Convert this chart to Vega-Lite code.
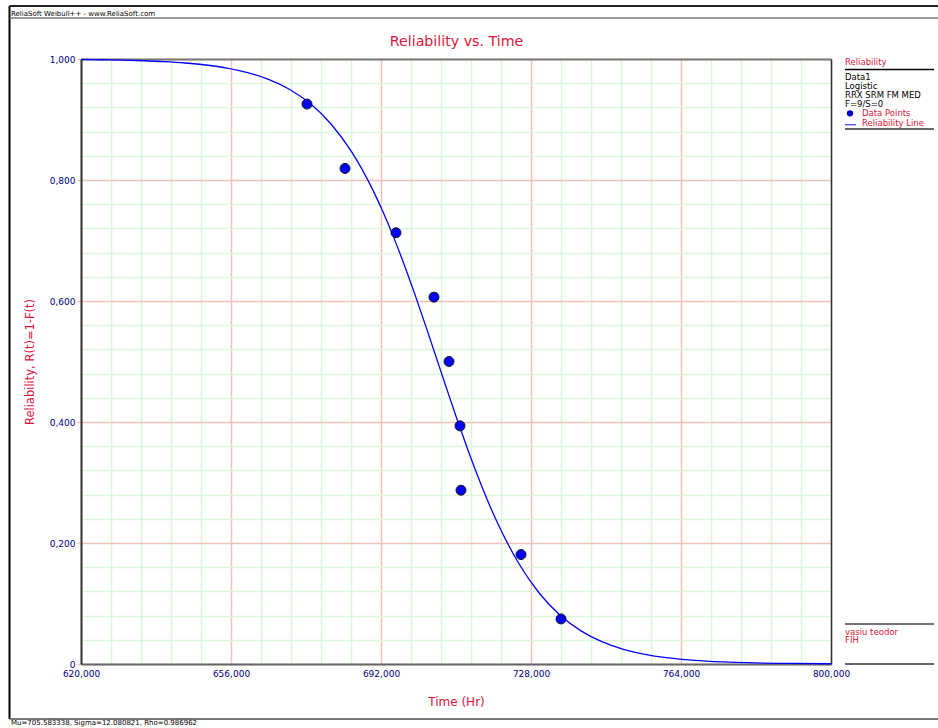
{
  "$schema": "https://vega.github.io/schema/vega-lite/v6.json",
  "width": 750,
  "height": 605,
  "autosize": {"type": "none"},
  "padding": {"left": 81, "top": 59, "right": 107, "bottom": 64},
  "background": "white",
  "config": {
    "font": "DejaVu Sans",
    "view": {"stroke": null},
    "axis": {"labelFlush": false, "labelOverlap": false, "titleFontWeight": "normal", "labelFont": "DejaVu Sans", "titleFont": "DejaVu Sans"}
  },
  "datasets": {
    "curve": [
      {"time": 620, "reliability": 0.99916},
      {"time": 625, "reliability": 0.99873},
      {"time": 630, "reliability": 0.99809},
      {"time": 635, "reliability": 0.99711},
      {"time": 640, "reliability": 0.99563},
      {"time": 645, "reliability": 0.99341},
      {"time": 650, "reliability": 0.99006},
      {"time": 655, "reliability": 0.98504},
      {"time": 660, "reliability": 0.97754},
      {"time": 665, "reliability": 0.96641},
      {"time": 670, "reliability": 0.95005},
      {"time": 675, "reliability": 0.92633},
      {"time": 680, "reliability": 0.89262},
      {"time": 685, "reliability": 0.84602},
      {"time": 690, "reliability": 0.78412},
      {"time": 692.5, "reliability": 0.74708},
      {"time": 695, "reliability": 0.70600},
      {"time": 697.5, "reliability": 0.66130},
      {"time": 700, "reliability": 0.61352},
      {"time": 702.5, "reliability": 0.56347},
      {"time": 705, "reliability": 0.51206},
      {"time": 707.5, "reliability": 0.46043},
      {"time": 710, "reliability": 0.40960},
      {"time": 712.5, "reliability": 0.36065},
      {"time": 715, "reliability": 0.31442},
      {"time": 717.5, "reliability": 0.27162},
      {"time": 720, "reliability": 0.23265},
      {"time": 725, "reliability": 0.16695},
      {"time": 730, "reliability": 0.11699},
      {"time": 735, "reliability": 0.08054},
      {"time": 740, "reliability": 0.05473},
      {"time": 745, "reliability": 0.03687},
      {"time": 750, "reliability": 0.02468},
      {"time": 755, "reliability": 0.01645},
      {"time": 760, "reliability": 0.01094},
      {"time": 765, "reliability": 0.00726},
      {"time": 770, "reliability": 0.00481},
      {"time": 780, "reliability": 0.00211},
      {"time": 790, "reliability": 0.00092},
      {"time": 800, "reliability": 0.00040}
    ],
    "points": [
      {"time": 674.24, "reliability": 0.9255},
      {"time": 683.36, "reliability": 0.8191},
      {"time": 695.6, "reliability": 0.7128},
      {"time": 704.72, "reliability": 0.6064},
      {"time": 708.32, "reliability": 0.5},
      {"time": 710.96, "reliability": 0.3936},
      {"time": 711.2, "reliability": 0.2872},
      {"time": 725.6, "reliability": 0.1809},
      {"time": 735.2, "reliability": 0.0745}
    ]
  },
  "resolve": {"axis": {"x": "independent", "y": "independent"}},
  "layer": [
    {
      "data": {"name": "curve"},
      "mark": {"type": "line", "color": "#0000ff", "strokeWidth": 1.3, "interpolate": "monotone"},
      "encoding": {
        "x": {
          "field": "time", "type": "quantitative",
          "scale": {"domain": [620, 800], "nice": false, "zero": false},
          "axis": {
            "orient": "bottom", "values": [620, 656, 692, 728, 764, 800],
            "labelExpr": "replace(format(datum.value, '.3f'), '.', ',')",
            "title": "Time (Hr)", "titleColor": "#dc143c", "titleFontSize": 12, "titlePadding": 18,
            "grid": true, "gridColor": "#f1c2b6", "gridWidth": 1.5,
            "ticks": false, "domainColor": "#666666", "domainWidth": 2,
            "labelColor": "#000080", "labelFontSize": 9, "labelPadding": 5
          }
        },
        "y": {
          "field": "reliability", "type": "quantitative",
          "scale": {"domain": [0, 1], "nice": false, "zero": false},
          "axis": {
            "orient": "left", "values": [0, 0.2, 0.4, 0.6, 0.8, 1],
            "labelExpr": "datum.value == 0 ? '0' : replace(format(datum.value, '.3f'), '.', ',')",
            "title": "Reliability, R(t)=1-F(t)", "titleColor": "#dc143c", "titleFontSize": 11.5, "titlePadding": 14,
            "grid": true, "gridColor": "#f1c2b6", "gridWidth": 1.5,
            "ticks": true, "tickColor": "#f1c2b6", "tickSize": 4, "tickWidth": 1.5,
            "domainColor": "#333333", "domainWidth": 2,
            "labelColor": "#000080", "labelFontSize": 9, "labelPadding": 2
          }
        }
      }
    },
    {
      "data": {"name": "points"},
      "mark": {"type": "circle", "size": 100, "color": "#0000ff", "stroke": "#1a1a1a", "strokeWidth": 1, "opacity": 1},
      "encoding": {
        "x": {
          "field": "time", "type": "quantitative",
          "scale": {"domain": [620, 800], "nice": false, "zero": false},
          "axis": {
            "orient": "top",
            "values": [627.2, 634.4, 641.6, 648.8, 663.2, 670.4, 677.6, 684.8, 699.2, 706.4, 713.6, 720.8, 735.2, 742.4, 749.6, 756.8, 771.2, 778.4, 785.6, 792.8],
            "labels": false, "ticks": false,
            "grid": true, "gridColor": "#dcf6dc", "gridWidth": 1.5,
            "domainColor": "#777777", "domainWidth": 2,
            "title": "Reliability vs. Time", "titleColor": "#dc143c", "titleFontSize": 14.2, "titlePadding": 11
          }
        },
        "y": {
          "field": "reliability", "type": "quantitative",
          "scale": {"domain": [0, 1], "nice": false, "zero": false},
          "axis": {
            "orient": "right",
            "values": [0.04, 0.08, 0.12, 0.16, 0.24, 0.28, 0.32, 0.36, 0.44, 0.48, 0.52, 0.56, 0.64, 0.68, 0.72, 0.76, 0.84, 0.88, 0.92, 0.96],
            "labels": false, "ticks": false,
            "grid": true, "gridColor": "#dcf6dc", "gridWidth": 1.5,
            "domainColor": "#333333", "domainWidth": 1.5,
            "title": null
          }
        }
      }
    },
    {
      "data": {"values": [{}]},
      "mark": {"type": "rule", "color": "#000000", "strokeWidth": 2},
      "encoding": {"x": {"datum": 602.84, "axis": null}, "y": {"datum": 1.0876, "axis": null}, "y2": {"datum": -0.0909}}
    },
    {
      "data": {"values": [{}]},
      "mark": {"type": "rule", "color": "#222222", "strokeWidth": 2},
      "encoding": {"x": {"datum": 602.84, "axis": null}, "x2": {"datum": 826.5}, "y": {"datum": 1.0876, "axis": null}}
    },
    {
      "data": {"values": [{}]},
      "mark": {"type": "rule", "color": "#777777", "strokeWidth": 1.5},
      "encoding": {"x": {"datum": 602.84, "axis": null}, "x2": {"datum": 826.5}, "y": {"datum": 1.06777, "axis": null}}
    },
    {
      "data": {"values": [{}]},
      "mark": {"type": "rule", "color": "#777777", "strokeWidth": 2},
      "encoding": {"x": {"datum": 602.84, "axis": null}, "x2": {"datum": 826.5}, "y": {"datum": -0.0909, "axis": null}}
    },
    {
      "data": {"values": [{}]},
      "mark": {"type": "text", "text": "ReliaSoft Weibull++ - www.ReliaSoft.com", "align": "left", "baseline": "alphabetic", "fontSize": 7, "color": "#000000"},
      "encoding": {"x": {"datum": 603.2, "axis": null}, "y": {"datum": 1.07058, "axis": null}}
    },
    {
      "data": {"values": [{}]},
      "mark": {"type": "text", "text": "Mu=705.583338, Sigma=12.080821, Rho=0.986962", "align": "left", "baseline": "alphabetic", "fontSize": 7, "color": "#000000"},
      "encoding": {"x": {"datum": 603.2, "axis": null}, "y": {"datum": -0.1012, "axis": null}}
    },
    {
      "data": {"values": [{}]},
      "mark": {"type": "text", "text": "Reliability", "align": "left", "baseline": "alphabetic", "fontSize": 8.5, "color": "#dc143c"},
      "encoding": {"x": {"datum": 803.36, "axis": null}, "y": {"datum": 0.98926, "axis": null}}
    },
    {
      "data": {"values": [{}]},
      "mark": {"type": "rule", "color": "#000000", "strokeWidth": 1.5},
      "encoding": {"x": {"datum": 803.36, "axis": null}, "x2": {"datum": 824.72}, "y": {"datum": 0.98264, "axis": null}}
    },
    {
      "data": {"values": [{}]},
      "mark": {"type": "text", "text": ["Data1", "Logistic", "RRX SRM FM MED", "F=9/S=0"], "lineHeight": 9, "align": "left", "baseline": "alphabetic", "fontSize": 8.5, "color": "#000000"},
      "encoding": {"x": {"datum": 803.36, "axis": null}, "y": {"datum": 0.96529, "axis": null}}
    },
    {
      "data": {"values": [{}]},
      "mark": {"type": "circle", "size": 40, "color": "#0000cc", "opacity": 1},
      "encoding": {"x": {"datum": 804.56, "axis": null}, "y": {"datum": 0.91025, "axis": null}}
    },
    {
      "data": {"values": [{}]},
      "mark": {"type": "text", "text": "Data Points", "align": "left", "baseline": "alphabetic", "fontSize": 8.5, "color": "#dc143c"},
      "encoding": {"x": {"datum": 807.44, "axis": null}, "y": {"datum": 0.90496, "axis": null}}
    },
    {
      "data": {"values": [{}]},
      "mark": {"type": "rule", "color": "#5a5aff", "strokeWidth": 1.5},
      "encoding": {"x": {"datum": 803.36, "axis": null}, "x2": {"datum": 806.0}, "y": {"datum": 0.8914, "axis": null}}
    },
    {
      "data": {"values": [{}]},
      "mark": {"type": "text", "text": "Reliability Line", "align": "left", "baseline": "alphabetic", "fontSize": 8.5, "color": "#dc143c"},
      "encoding": {"x": {"datum": 807.44, "axis": null}, "y": {"datum": 0.89008, "axis": null}}
    },
    {
      "data": {"values": [{}]},
      "mark": {"type": "rule", "color": "#333333", "strokeWidth": 1.5},
      "encoding": {"x": {"datum": 803.36, "axis": null}, "x2": {"datum": 824.72}, "y": {"datum": 0.8843, "axis": null}}
    },
    {
      "data": {"values": [{}]},
      "mark": {"type": "rule", "color": "#444444", "strokeWidth": 1.5},
      "encoding": {"x": {"datum": 803.36, "axis": null}, "x2": {"datum": 824.72}, "y": {"datum": 0.066116, "axis": null}}
    },
    {
      "data": {"values": [{}]},
      "mark": {"type": "text", "text": ["vasiu teodor", "FIH"], "lineHeight": 8.5, "align": "left", "baseline": "alphabetic", "fontSize": 8.5, "color": "#dc143c"},
      "encoding": {"x": {"datum": 803.36, "axis": null}, "y": {"datum": 0.047934, "axis": null}}
    },
    {
      "data": {"values": [{}]},
      "mark": {"type": "rule", "color": "#666666", "strokeWidth": 2},
      "encoding": {"x": {"datum": 803.36, "axis": null}, "x2": {"datum": 824.72}, "y": {"datum": 0, "axis": null}}
    }
  ]
}
